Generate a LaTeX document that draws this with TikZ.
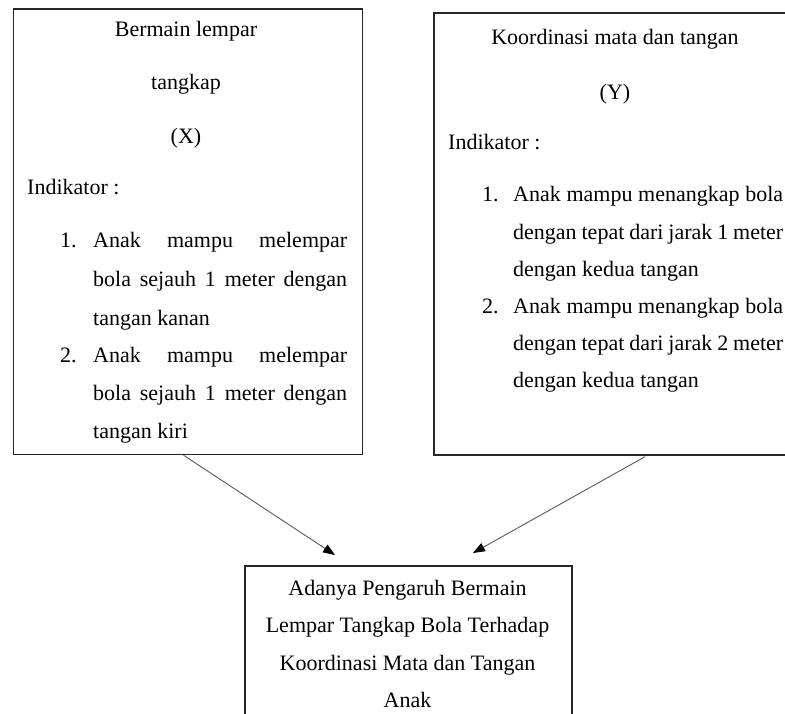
\documentclass[tikz,border=0pt]{standalone}
\usepackage{fontspec}
\setmainfont{Liberation Serif}
\usetikzlibrary{arrows.meta,calc}
\begin{document}
\begin{tikzpicture}[x=1pt,y=-1pt,
  font=\fontsize{22}{26}\selectfont,
  box/.style={draw=black!85, line width=1.7pt, inner sep=0pt, fill=none},
  txt/.style={inner sep=0pt, anchor=base west, text=black},
  ctr/.style={inner sep=0pt, anchor=base, text=black},
  arr/.style={draw=black!65, line width=0.9pt, -{Triangle[length=12pt,width=9pt,fill=black,color=black]}}]
\useasboundingbox (0,0) rectangle (785,714);
% boxes
\node[box, minimum width=349pt, minimum height=445pt, anchor=north west] (L) at (12.5,8.5) {};
\node[box, minimum width=364pt, minimum height=442pt, anchor=north west] (R) at (433,12) {};
\node[box, minimum width=327pt, minimum height=175pt, anchor=north west] (B) at (244,565) {};
% left box text
\node[ctr] (l1) at (186,37) {Bermain lempar};
\node[ctr] (l2) at (186,90) {tangkap};
\node[ctr] (l3) at (186,144) {(X)};
\node[txt] (l4) at (27,195) {Indikator :};
\node[txt] (ln1) at (60,248) {1.};
\node[txt] (l5) at (93,248) {\makebox[254pt][s]{Anak mampu melempar}};
\node[txt] (l6) at (93,287) {\makebox[254pt][s]{bola sejauh 1 meter dengan}};
\node[txt] (l7) at (93,325) {tangan kanan};
\node[txt] (ln2) at (60,362) {2.};
\node[txt] (l8) at (93,362) {\makebox[254pt][s]{Anak mampu melempar}};
\node[txt] (l9) at (93,400) {\makebox[254pt][s]{bola sejauh 1 meter dengan}};
\node[txt] (l10) at (93,438) {tangan kiri};
% right box text
\node[ctr] (r1) at (615,45) {Koordinasi mata dan tangan};
\node[ctr] (r2) at (615,100) {(Y)};
\node[txt] (r3) at (448,150) {Indikator :};
\node[txt] (rn1) at (482,202) {1.};
\node[txt] (r4) at (513,202) {\makebox[270pt][s]{Anak mampu menangkap bola}};
\node[txt] (r5) at (513,240) {\makebox[270pt][s]{dengan tepat dari jarak 1 meter}};
\node[txt] (r6) at (513,277) {dengan kedua tangan};
\node[txt] (rn2) at (482,313) {2.};
\node[txt] (r7) at (513,313) {\makebox[270pt][s]{Anak mampu menangkap bola}};
\node[txt] (r8) at (513,350) {\makebox[270pt][s]{dengan tepat dari jarak 2 meter}};
\node[txt] (r9) at (513,387) {dengan kedua tangan};
% bottom box text
\node[ctr] (b1) at (407.5,595) {Adanya Pengaruh Bermain};
\node[ctr] (b2) at (407.5,632) {Lempar Tangkap Bola Terhadap};
\node[ctr] (b3) at (407.5,670) {Koordinasi Mata dan Tangan};
\node[ctr] (b4) at (407.5,707) {Anak};
% arrows
\draw[arr] ($(L.south west)+(171,0)$) -- ($(B.north west)+(91,-10)$);
\draw[arr] ($(R.south west)+(212,1)$) -- ($(B.north west)+(229,-12)$);
\end{tikzpicture}
\end{document}
